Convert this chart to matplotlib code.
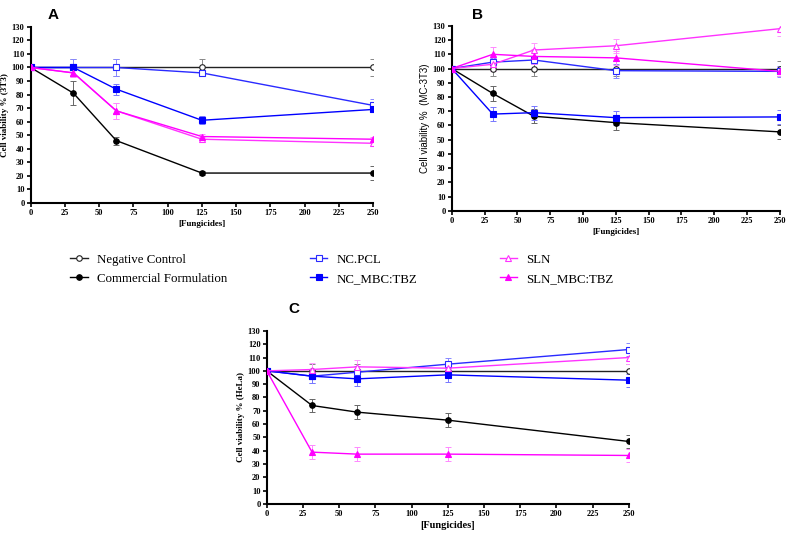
import numpy as np
import matplotlib.pyplot as plt

# concentrations
conc = [0, 31.25, 62.5, 125, 250]

labels = ['Negative Control', 'Commercial Formulation', 'NC.PCL',
          'NC_MBC:TBZ', 'SLN', 'SLN_MBC:TBZ']

# panel A (3T3)
a_vals = [[100, 100, 100, 100, 100],
          [100, 81, 46, 22, 22],
          [100, 100, 100, 96, 72],
          [100, 100, 84, 61, 69],
          [100, 96, 68, 47, 44],
          [100, 96, 68, 49, 47]]
a_err = [[0, 6, 6, 6, 6],
         [0, 9, 3, 1.5, 5],
         [0, 6, 6, 2, 5],
         [0, 2, 4, 3, 2],
         [0, 3, 6, 2, 2],
         [0, 3, 6, 2, 2]]

# panel B (MC-3T3)
b_vals = [[100, 100, 100, 100, 100],
          [100, 82.5, 66.5, 62, 55.5],
          [100, 104.5, 106, 98.5, 98],
          [100, 68, 69, 65.5, 66],
          [100, 103, 113, 116, 128],
          [100, 110, 108.5, 107.5, 98]]
b_err = [[0, 5, 5, 5, 5],
         [0, 5, 5, 5, 5],
         [0, 3, 3, 5, 4],
         [0, 5, 5, 5, 5],
         [0, 5, 5, 5, 5],
         [0, 5, 5, 5, 3]]

# panel C (HeLa)
c_vals = [[100, 100, 100, 100, 100],
          [100, 74, 69, 63, 47],
          [100, 96, 99, 105, 116],
          [100, 96, 94, 97, 93],
          [100, 101, 103, 102, 110],
          [100, 39, 37.5, 37.5, 36.5]]
c_err = [[0, 5, 5, 5, 5],
         [0, 5, 5, 5, 5],
         [0, 5, 5, 5, 5],
         [0, 5, 5, 5, 5],
         [0, 5, 5, 5, 5],
         [0, 5, 5, 5, 5]]

colors = ['#222222', '#000000', '#2a2aff', '#0000ff', '#ff33ff', '#ff00ff']
ecolors = ['#888888', '#666666', '#8888ff', '#7777ff', '#ff99ff', '#ff88ff']
markers = ['o', 'o', 's', 's', '^', '^']
filled = [False, True, False, True, False, True]

serif = 'Liberation Serif'
sans = 'Liberation Sans'

fig = plt.figure(figsize=(7.87, 5.38), dpi=100)


def draw(ax, vals, errs, ylabel, ylab_font, ylab_weight, xlab_size):
    handles = []
    for v, e, c, ec, m, f in zip(vals, errs, colors, ecolors, markers, filled):
        ax.errorbar(conc, v, yerr=e, fmt='none', ecolor=ec, elinewidth=0.7,
                    capsize=2, capthick=0.7, zorder=2)
        h, = ax.plot(conc, v, color=c, lw=1.0, marker=m, ms=4 if m != '^' else 4.5,
                     mfc=c if f else 'white', mec=c, mew=0.8, zorder=3)
        handles.append(h)
    ax.set_xlim(0, 250)
    ax.set_ylim(0, 130)
    ax.set_xticks(np.arange(0, 251, 25))
    ax.set_yticks(np.arange(0, 131, 10))
    ax.spines['top'].set_visible(False)
    ax.spines['right'].set_visible(False)
    ax.spines['left'].set_linewidth(1.5)
    ax.spines['bottom'].set_linewidth(1.5)
    ax.tick_params(width=1.2, length=3, pad=1.5)
    for t in ax.get_xticklabels() + ax.get_yticklabels():
        t.set_fontfamily(serif)
        t.set_fontweight('bold')
        t.set_fontsize(6)
    ax.set_xlabel('[Fungicides]', fontfamily=serif, fontweight='bold',
                  fontsize=xlab_size, labelpad=2)
    ax.set_ylabel(ylabel, fontfamily=ylab_font, fontweight=ylab_weight,
                  fontsize=6.5 if ylab_font == serif else 7, labelpad=2)
    return handles


ax_a = fig.add_axes([0.039, 0.623, 0.435, 0.327])
hs = draw(ax_a, a_vals, a_err, 'Cell viability % (3T3)', serif, 'bold', 6.5)

ax_b = fig.add_axes([0.574, 0.608, 0.417, 0.344])
draw(ax_b, b_vals, b_err, 'Cell viability %  (MC-3T3)', sans, 'normal', 6.5)

ax_c = fig.add_axes([0.339, 0.063, 0.460, 0.322])
draw(ax_c, c_vals, c_err, 'Cell viability % (HeLa)', serif, 'bold', 7.5)

fig.text(0.060, 0.985, 'A', fontfamily=sans, fontweight='bold', fontsize=11, va='top')
fig.text(0.600, 0.985, 'B', fontfamily=sans, fontweight='bold', fontsize=11, va='top')
fig.text(0.367, 0.438, 'C', fontfamily=sans, fontweight='bold', fontsize=11, va='top')

fig.legend(hs, labels, ncol=3, loc='upper left', bbox_to_anchor=(0.083, 0.538),
           frameon=False, prop={'family': serif, 'size': 9.3},
           handlelength=1.35, handletextpad=0.7, columnspacing=6.4,
           labelspacing=0.55, borderaxespad=0)

fig.savefig('out.png', dpi=100)
